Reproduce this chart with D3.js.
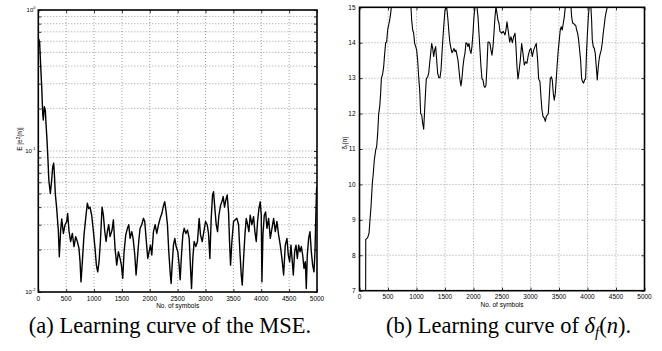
<!DOCTYPE html>
<html>
<head>
<meta charset="utf-8">
<script src="https://cdn.jsdelivr.net/npm/d3@7"></script>
<style>
body { margin: 0; background: #fff; }
svg text { font-family: "Liberation Sans", Arial, sans-serif; fill: #000; }
.cap { font-family: "Liberation Serif", "Times New Roman", serif; font-size: 22.5px; }
</style>
</head>
<body>
<div id="fig"></div>
<script>
// symbols index and MSE (left panel)
var mseN = [0, 10, 25, 30, 43, 61, 79, 90, 108, 126,
    138, 156, 174, 186, 192, 216, 240, 258, 276, 288,
    305, 330, 360, 377, 400, 420, 450, 480, 510, 527,
    551, 580, 611, 641, 671, 700, 730, 749, 766, 790,
    820, 850, 880, 904, 928, 958, 988, 1018, 1042, 1066,
    1090, 1114, 1144, 1168, 1192, 1216, 1240, 1264, 1287, 1323,
    1347, 1377, 1407, 1437, 1467, 1491, 1515, 1539, 1569, 1599,
    1623, 1647, 1677, 1701, 1731, 1754, 1778, 1802, 1826, 1856,
    1886, 1910, 1934, 1964, 1988, 2012, 2036, 2066, 2096, 2126,
    2156, 2186, 2216, 2246, 2269, 2293, 2317, 2341, 2365, 2383,
    2401, 2425, 2449, 2473, 2503, 2527, 2545, 2569, 2593, 2617,
    2647, 2677, 2707, 2731, 2749, 2772, 2796, 2826, 2856, 2886,
    2910, 2940, 2970, 3000, 3030, 3054, 3078, 3102, 3126, 3144,
    3168, 3192, 3216, 3240, 3269, 3293, 3317, 3341, 3365, 3389,
    3413, 3431, 3449, 3473, 3503, 3533, 3563, 3593, 3617, 3641,
    3659, 3683, 3707, 3731, 3755, 3778, 3802, 3832, 3862, 3886,
    3910, 3934, 3958, 3982, 4000, 4012, 4030, 4054, 4078, 4102,
    4132, 4162, 4192, 4222, 4252, 4281, 4311, 4341, 4371, 4401,
    4431, 4461, 4485, 4509, 4533, 4557, 4575, 4599, 4623, 4647,
    4671, 4695, 4719, 4743, 4767, 4791, 4808, 4826, 4850, 4874,
    4898, 4922, 4946, 4964, 4982, 4994];
var mseVal = [0.55, 0.62, 0.58, 0.52, 0.40, 0.286, 0.185, 0.166, 0.206, 0.195,
    0.157, 0.12, 0.086, 0.066, 0.0605, 0.05, 0.062, 0.077, 0.082, 0.0695,
    0.05, 0.039, 0.027, 0.0178, 0.027, 0.033, 0.026, 0.030, 0.0316, 0.036,
    0.027, 0.0228, 0.026, 0.021, 0.0247, 0.0228, 0.0204, 0.0164, 0.0118, 0.0164,
    0.0254, 0.0333, 0.0426, 0.039, 0.040, 0.035, 0.027, 0.0204, 0.0155, 0.0139,
    0.0164, 0.0228, 0.040, 0.035, 0.027, 0.0228, 0.027, 0.030, 0.0247, 0.0275,
    0.0325, 0.0204, 0.0155, 0.0193, 0.0173, 0.0155, 0.0125, 0.0193, 0.0254, 0.0283,
    0.030, 0.024, 0.0268, 0.024, 0.0183, 0.0132, 0.0173, 0.0228, 0.0283, 0.030,
    0.0333, 0.0316, 0.024, 0.0173, 0.0193, 0.0215, 0.0183, 0.0268, 0.030, 0.026,
    0.030, 0.0333, 0.036, 0.041, 0.0436, 0.037, 0.030, 0.0193, 0.0139, 0.0115,
    0.0155, 0.0215, 0.024, 0.021, 0.0193, 0.0155, 0.0122, 0.0183, 0.0254, 0.0283,
    0.026, 0.0275, 0.024, 0.0147, 0.0106, 0.0173, 0.0228, 0.021, 0.0228, 0.0333,
    0.0254, 0.0228, 0.0268, 0.0316, 0.030, 0.026, 0.0173, 0.0333, 0.0488, 0.0514,
    0.039, 0.030, 0.0268, 0.035, 0.041, 0.0436, 0.0475, 0.040, 0.045, 0.0488,
    0.037, 0.0228, 0.0155, 0.0228, 0.0316, 0.0325, 0.0333, 0.030, 0.0193, 0.0132,
    0.0112, 0.0173, 0.0254, 0.0333, 0.030, 0.0268, 0.035, 0.030, 0.0342, 0.0268,
    0.0228, 0.0316, 0.039, 0.0436, 0.035, 0.0118, 0.0254, 0.035, 0.037, 0.0283,
    0.0333, 0.024, 0.0283, 0.0333, 0.0268, 0.0316, 0.0254, 0.0215, 0.0173, 0.0132,
    0.0215, 0.024, 0.0183, 0.0164, 0.0215, 0.0164, 0.0132, 0.0193, 0.0215, 0.0173,
    0.0215, 0.0193, 0.021, 0.0183, 0.0147, 0.0164, 0.0106, 0.0183, 0.024, 0.0268,
    0.0193, 0.0155, 0.0139, 0.0193, 0.039, 0.056];

// symbols index and delta_f (right panel)
var deltaN = [108, 110, 143, 167, 184, 202, 225, 242, 260, 284,
    301, 319, 336, 354, 371, 383, 406, 424, 442, 459,
    476, 494, 512, 529, 547, 558, 700, 903, 915, 933,
    950, 968, 986, 1003, 1020, 1038, 1056, 1073, 1091, 1108,
    1126, 1143, 1161, 1172, 1196, 1214, 1231, 1249, 1266, 1284,
    1301, 1319, 1336, 1354, 1371, 1394, 1412, 1430, 1447, 1465,
    1482, 1500, 1525, 1535, 1552, 1570, 1587, 1605, 1622, 1640,
    1657, 1675, 1692, 1710, 1728, 1745, 1763, 1780, 1798, 1815,
    1833, 1850, 1868, 1886, 1903, 1921, 1938, 1956, 1973, 1991,
    2008, 2026, 2045, 2061, 2079, 2096, 2114, 2131, 2149, 2166,
    2184, 2201, 2219, 2236, 2254, 2271, 2289, 2306, 2324, 2342,
    2359, 2377, 2394, 2412, 2429, 2447, 2464, 2494, 2523, 2552,
    2570, 2587, 2611, 2634, 2657, 2681, 2704, 2728, 2745, 2763,
    2780, 2798, 2821, 2845, 2868, 2891, 2915, 2938, 2962, 2985,
    3008, 3032, 3055, 3078, 3101, 3125, 3143, 3166, 3183, 3201,
    3219, 3242, 3260, 3277, 3295, 3312, 3330, 3347, 3365, 3382,
    3400, 3417, 3435, 3452, 3470, 3487, 3505, 3522, 3540, 3557,
    3575, 3593, 3610, 3660, 3710, 3722, 3739, 3757, 3774, 3792,
    3809, 3827, 3844, 3862, 3879, 3897, 3914, 3932, 3949, 3967,
    3984, 4002, 4019, 4031, 4045, 4060, 4072, 4084, 4101, 4119,
    4136, 4154, 4171, 4189, 4206, 4224, 4241, 4259, 4276, 4294,
    4311, 4329, 4346, 4600, 5000];
var deltaVal = [7, 8.45, 8.5, 8.62, 9.0, 9.37, 10.03, 10.31, 10.69, 10.97,
    11.07, 11.44, 11.98, 12.19, 12.57, 12.98, 13.12, 13.32, 13.70, 14.0,
    14.02, 14.36, 14.5, 14.64, 14.83, 15.0, 15.9, 15.0, 14.64, 14.36,
    14.27, 13.98, 13.89, 13.79, 13.51, 13.04, 12.67, 12.0, 11.96, 11.73,
    11.56, 12.1, 12.67, 12.98, 13.04, 13.14, 13.42, 13.70, 13.98, 13.84,
    13.61, 13.79, 13.89, 13.51, 13.14, 13.01, 13.01, 13.23, 13.70, 14.17,
    14.55, 14.92, 15.05, 14.92, 14.64, 14.27, 13.98, 13.84, 13.72, 13.77,
    13.84, 13.75, 13.79, 13.65, 13.51, 13.23, 12.95, 12.78, 13.0, 13.32,
    13.56, 13.70, 14.0, 13.98, 13.89, 13.98, 13.79, 13.70, 13.89, 14.27,
    14.73, 15.0, 15.1, 15.0, 14.73, 14.27, 13.79, 13.32, 12.98, 12.95,
    12.78, 12.74, 12.8, 13.32, 14.02, 14.02, 13.98, 13.79, 13.65, 13.89,
    14.27, 14.73, 15.02, 14.83, 14.64, 14.55, 14.32, 14.27, 14.32, 14.22,
    14.36, 14.59, 14.32, 14.02, 14.17, 14.0, 14.17, 14.27, 13.89, 13.32,
    12.98, 13.18, 13.51, 13.98, 13.70, 13.37, 13.46, 13.42, 13.65, 13.79,
    13.84, 13.61, 13.79, 13.89, 13.98, 13.51, 12.98, 12.9, 12.48, 12.1,
    11.92, 11.87, 11.78, 11.92, 11.96, 12.0, 12.48, 12.98, 13.04, 12.95,
    12.57, 12.38, 12.57, 12.98, 13.42, 13.79, 14.08, 14.36, 14.45, 14.36,
    14.55, 14.73, 15.0, 15.4, 15.0, 14.73, 14.55, 14.55, 14.5, 14.5,
    14.36, 14.27, 14.08, 13.79, 13.51, 12.98, 12.9, 12.86, 12.95, 12.98,
    13.79, 14.36, 14.83, 15.0, 15.2, 15.0, 14.64, 14.08, 13.89, 13.84,
    13.70, 13.32, 12.95, 13.32, 13.56, 13.70, 13.79, 14.0, 14.27, 14.5,
    14.73, 14.88, 15.0, 15.8, 16.2];

var xTicks = [0, 500, 1000, 1500, 2000, 2500, 3000, 3500, 4000, 4500, 5000];
var mseDecades = [0.01, 0.1, 1];
var mseExponents = ["-2", "-1", "0"];
var deltaTicks = [7, 8, 9, 10, 11, 12, 13, 14, 15];
var xLabel = "No. of symbols";

var svg = d3.select("#fig").append("svg")
    .attr("width", 662)
    .attr("height", 351);

var xA = d3.scaleLinear().domain([0, 5000]).range([38.3, 317]);
var yA = d3.scaleLog().domain([0.01, 1]).range([292, 10]);
var xB = d3.scaleLinear().domain([0, 5000]).range([359.5, 644.5]);
var yB = d3.scaleLinear().domain([7, 15]).range([290.7, 7.3]);

var yMinor = yA.ticks();

function panel(x, y, yTickVals, id) {
    var g = svg.append("g");
    var x0 = x.range()[0], x1 = x.range()[1];
    var yb = y.range()[0], yt = y.range()[1];

    // dotted grid
    g.selectAll(".vg").data(xTicks.slice(1, -1)).enter().append("line")
        .attr("x1", x).attr("x2", x)
        .attr("y1", yt).attr("y2", yb)
        .attr("stroke", "#777").attr("stroke-width", 0.7)
        .attr("stroke-dasharray", "1,2");
    g.selectAll(".hg").data(yTickVals.filter(function(d) { return y(d) > yt + 1 && y(d) < yb - 1; }))
        .enter().append("line")
        .attr("x1", x0).attr("x2", x1)
        .attr("y1", y).attr("y2", y)
        .attr("stroke", "#777").attr("stroke-width", 0.7)
        .attr("stroke-dasharray", "1,2");

    // inward ticks on all four sides
    g.append("g").attr("transform", "translate(0," + yb + ")")
        .call(d3.axisBottom(x).tickValues(xTicks).tickSizeInner(-3).tickSizeOuter(0).tickFormat(""));
    g.append("g").attr("transform", "translate(0," + yt + ")")
        .call(d3.axisTop(x).tickValues(xTicks).tickSizeInner(-3).tickSizeOuter(0).tickFormat(""));
    g.append("g").attr("transform", "translate(" + x0 + ",0)")
        .call(d3.axisLeft(y).tickValues(yTickVals).tickSizeInner(-3).tickSizeOuter(0).tickFormat(""));
    g.append("g").attr("transform", "translate(" + x1 + ",0)")
        .call(d3.axisRight(y).tickValues(yTickVals).tickSizeInner(-3).tickSizeOuter(0).tickFormat(""));
    g.selectAll(".domain").remove();
    g.selectAll(".tick line").attr("stroke", "#000").attr("stroke-width", 0.8);

    // x tick labels
    g.selectAll(".xl").data(xTicks).enter().append("text")
        .attr("x", x).attr("y", yb + 8.5)
        .attr("text-anchor", "middle")
        .style("font-size", "6.5px")
        .text(function(d) { return d; });
    g.append("text")
        .attr("x", (x0 + x1) / 2).attr("y", yb + 16)
        .attr("text-anchor", "middle")
        .style("font-size", "6.5px")
        .text(xLabel);

    svg.append("clipPath").attr("id", id)
        .append("rect").attr("x", x0).attr("y", yt).attr("width", x1 - x0).attr("height", yb - yt);
    return g;
}

// left panel
var gA = panel(xA, yA, yMinor, "clipA");
gA.append("path")
    .datum(d3.zip(mseN, mseVal))
    .attr("clip-path", "url(#clipA)")
    .attr("fill", "none").attr("stroke", "#000").attr("stroke-width", 1.4)
    .attr("stroke-linejoin", "round")
    .attr("d", d3.line().x(function(d) { return xA(d[0]); }).y(function(d) { return yA(d[1]); }));
gA.append("rect")
    .attr("x", 38.3).attr("y", 10).attr("width", 317 - 38.3).attr("height", 282)
    .attr("fill", "none").attr("stroke", "#000").attr("stroke-width", 1.6);

var decLab = gA.selectAll(".yl").data(mseDecades).enter().append("text")
    .attr("x", 35.5).attr("y", function(d) { return yA(d) + 2; })
    .attr("text-anchor", "end")
    .style("font-size", "6px");
decLab.append("tspan").text("10");
decLab.append("tspan").attr("dy", -3).style("font-size", "4px")
    .text(function(d, i) { return mseExponents[i]; });

var labA = gA.append("text")
    .attr("transform", "translate(22,139) rotate(-90)")
    .attr("text-anchor", "middle")
    .style("font-size", "6.5px");
labA.append("tspan").text("E |e");
labA.append("tspan").attr("dy", -2.5).style("font-size", "4.5px").text("2");
labA.append("tspan").attr("dy", 2.5).text("(n)|");

// right panel
var gB = panel(xB, yB, deltaTicks, "clipB");
gB.append("path")
    .datum(d3.zip(deltaN, deltaVal))
    .attr("clip-path", "url(#clipB)")
    .attr("fill", "none").attr("stroke", "#000").attr("stroke-width", 1.1)
    .attr("stroke-linejoin", "round")
    .attr("d", d3.line().x(function(d) { return xB(d[0]); }).y(function(d) { return yB(d[1]); }));
gB.append("rect")
    .attr("x", 359.5).attr("y", 7.3).attr("width", 285).attr("height", 290.7 - 7.3)
    .attr("fill", "none").attr("stroke", "#000").attr("stroke-width", 1.6);

gB.selectAll(".yl").data(deltaTicks).enter().append("text")
    .attr("x", 355.5).attr("y", function(d) { return yB(d) + 2.3; })
    .attr("text-anchor", "end")
    .style("font-size", "6.5px")
    .text(function(d) { return d; });

var labB = gB.append("text")
    .attr("transform", "translate(347,143) rotate(-90)")
    .attr("text-anchor", "middle")
    .style("font-size", "6.5px");
labB.append("tspan").text("\u03b4");
labB.append("tspan").attr("dy", 1.5).style("font-size", "4.5px").text("f");
labB.append("tspan").attr("dy", -1.5).text("(n)");

// captions
svg.append("text").attr("class", "cap")
    .attr("x", 170).attr("y", 333).attr("text-anchor", "middle")
    .text("(a) Learning curve of the MSE.");

var capB = svg.append("text").attr("class", "cap")
    .attr("x", 508.5).attr("y", 333).attr("text-anchor", "middle");
capB.append("tspan").text("(b) Learning curve of ");
capB.append("tspan").style("font-style", "italic").text("\u03b4");
capB.append("tspan").style("font-style", "italic").style("font-size", "15px").attr("dy", 4).text("f");
capB.append("tspan").attr("dy", -4).text("(");
capB.append("tspan").style("font-style", "italic").text("n");
capB.append("tspan").text(").");
</script>
</body>
</html>
